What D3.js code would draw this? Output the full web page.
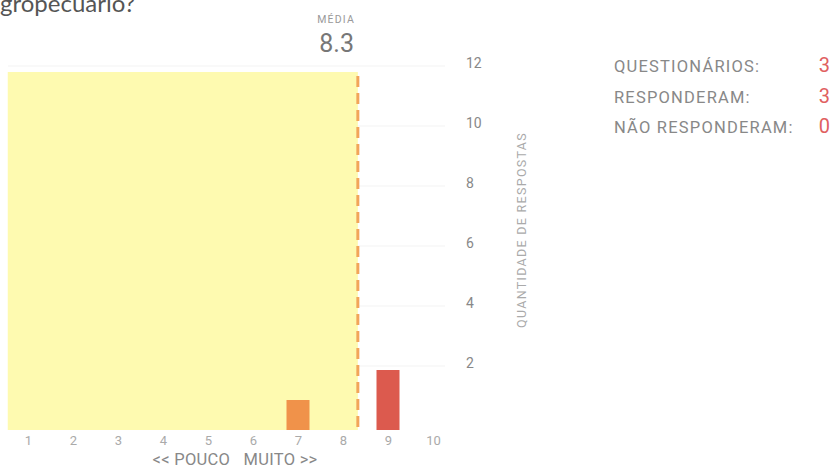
<!DOCTYPE html>
<html><head><meta charset="utf-8">
<script src="https://cdn.jsdelivr.net/npm/d3@7"></script>
<style>body{margin:0;background:#fff;}svg{display:block;}</style>
</head><body>
<svg id="c" width="836" height="472"></svg>
<script>
const categories = [1,2,3,4,5,6,7,8,9,10];
const counts = [0,0,0,0,0,0,1,0,2,0];
const yTicks = [2,4,6,8,10,12];
const mean = 8.3;
const legendLabels = ["QUESTIONÁRIOS:","RESPONDERAM:","NÃO RESPONDERAM:"];
const legendValues = [3,3,0];
const titleText = "gropecuário?";

const svg = d3.select("#c");
const x = d3.scaleLinear().domain([1,10]).range([28,433]);
const y = d3.scaleLinear().domain([0,12]).range([430,70]);
const barColor = v => v===9 ? "#dc5a4e" : "#f0924a";
const F = "Roboto, 'Liberation Sans', sans-serif";

svg.append("text").attr("x",0).attr("y",12).attr("font-family","Lato, 'Open Sans', sans-serif")
  .attr("font-size",24).attr("fill","#555").text(titleText);

// gridlines
svg.append("g").selectAll("line").data(yTicks).join("line")
  .attr("x1",8).attr("x2",445).attr("y1",d=>y(d)-4).attr("y2",d=>y(d)-4)
  .attr("stroke","#f3f3f3").attr("stroke-width",1);

// highlighted area up to mean
svg.append("rect").attr("x",x(0.55)).attr("y",y(12)+2).attr("width",x(mean+0.03)-x(0.55)).attr("height",y(0)-y(12)-2)
  .attr("fill","#fefab0");

// bars
svg.append("g").selectAll("rect").data(categories.map((c,i)=>({c,v:counts[i]})).filter(d=>d.v>0)).join("rect")
  .attr("x",d=>x(d.c)-11.5).attr("width",23).attr("y",d=>y(d.v)).attr("height",d=>y(0)-y(d.v))
  .attr("fill",d=>barColor(d.c));

// mean line
svg.append("line").attr("x1",x(mean+0.03)).attr("x2",x(mean+0.03)).attr("y1",y(12)+6).attr("y2",y(0))
  .attr("stroke","#f2a55a").attr("stroke-width",3).attr("stroke-dasharray","11,6");

svg.append("text").attr("x",355).attr("y",23).attr("text-anchor","end").attr("font-family",F)
  .attr("font-size",10.5).attr("letter-spacing",1.2).attr("fill","#999").text("MÉDIA");
svg.append("text").attr("x",354).attr("y",52).attr("text-anchor","end").attr("font-family",F)
  .attr("font-size",25).attr("fill","#777").text(mean.toFixed(1));

// x axis labels
const xa = svg.append("g").attr("transform","translate(0,436)")
  .call(d3.axisBottom(x).tickValues(categories).tickSize(0).tickPadding(0).tickFormat(d3.format("d")));
xa.select(".domain").remove();
xa.selectAll("text").attr("font-family",F).attr("font-size",13).attr("fill","#aaa");

svg.append("text").attr("x",235).attr("y",465).attr("text-anchor","middle").attr("font-family",F)
  .attr("font-size",16.5).attr("letter-spacing",0.3).attr("fill","#888").attr("xml:space","preserve").text("<< POUCO   MUITO >>");

// y axis labels
const ya = svg.append("g").attr("transform","translate(466,-7)")
  .call(d3.axisRight(y).tickValues(yTicks).tickSize(0).tickPadding(0));
ya.select(".domain").remove();
ya.selectAll("text").attr("font-family",F).attr("font-size",14).attr("fill","#888");

svg.append("text").attr("transform","translate(526,230) rotate(-90)").attr("text-anchor","middle")
  .attr("font-family",F).attr("font-size",12.5).attr("letter-spacing",1.3).attr("fill","#aaa").text("QUANTIDADE DE RESPOSTAS");

// legend
const lg = svg.append("g").selectAll("g").data(legendLabels.map((l,i)=>({l,v:legendValues[i],i}))).join("g")
  .attr("transform",d=>`translate(0,${72+d.i*30.5})`);
lg.append("text").attr("x",614).attr("font-family",F).attr("font-size",16.5).attr("letter-spacing",1.2).attr("fill","#888").text(d=>d.l);
lg.append("text").attr("x",830).attr("y",0).attr("text-anchor","end").attr("font-family",F)
  .attr("font-size",20).attr("fill","#e06060").text(d=>d.v);
</script>
</body></html>
